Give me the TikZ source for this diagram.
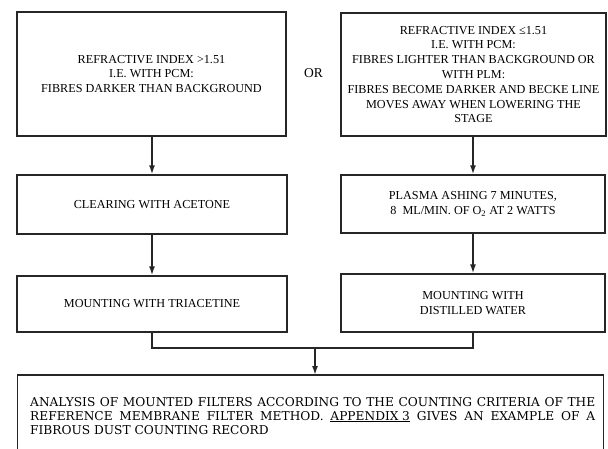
\documentclass[tikz,border=0pt]{standalone}
\usepackage{fontspec}
\setmainfont{Liberation Serif}
\newfontfamily\slabfont{DejaVu Serif}
\usetikzlibrary{arrows.meta}
\newcommand\spreadline[1]{\hbox to 565pt{\spaceskip=0.3em plus 1fil\relax #1}}
\begin{document}
\begin{tikzpicture}[x=1pt,y=1pt,
  box/.style={draw=black!85, line width=1.3pt, align=center, inner sep=0pt,
    font=\fontsize{12.2}{14.8}\selectfont},
  flow/.style={line width=1.6pt, draw=black!85, -{Latex[length=9pt,width=6pt]}},
  mergeline/.style={line width=2pt, draw=black!85}]
  \useasboundingbox (0,0) rectangle (608,-448);
  \fill[white] (0,0) rectangle (608,-448);

  % first step: choosing by refractive index
  \node[box, minimum width=269pt, minimum height=124pt] (hi) at (151.5,-74)
    {REFRACTIVE INDEX >1.51\\I.E. WITH PCM:\\FIBRES DARKER THAN BACKGROUND};
  \node[box, minimum width=265pt, minimum height=123pt] (lo) at (473.5,-74.5)
    {REFRACTIVE INDEX ≤1.51\\I.E. WITH PCM:\\FIBRES LIGHTER THAN BACKGROUND OR\\WITH PLM:\\FIBRES BECOME DARKER AND BECKE LINE\\MOVES AWAY WHEN LOWERING THE\\STAGE};
  \node[font=\fontsize{13.5}{14}\selectfont] (or) at (313.5,-73) {OR};

  % preparation of the filters
  \node[box, minimum width=270pt, minimum height=59pt] (clear) at (152,-204.5)
    {CLEARING WITH ACETONE};
  \node[box, minimum width=264pt, minimum height=58pt] (ash) at (473,-204)
    {PLASMA ASHING 7 MINUTES,\\8\ \ ML/MIN. OF O\textsubscript{2} AT 2 WATTS};
  \node[box, minimum width=270pt, minimum height=56pt] (tri) at (152,-304)
    {MOUNTING WITH TRIACETINE};
  \node[box, minimum width=264pt, minimum height=58pt] (water) at (473,-303)
    {MOUNTING WITH\\DISTILLED WATER};

  % final analysis box, running past the lower edge
  \node[minimum width=585pt, minimum height=80pt, inner sep=0pt, anchor=north] (ana) at (310.5,-375) {};
  \draw[line width=1.3pt, draw=black!85] (ana.north west |- 0,-452) -- (ana.north west)
    -- (ana.north east) -- (ana.north east |- 0,-452);
  \node[anchor=base west, inner sep=0pt, align=left,
        font=\slabfont\fontsize{12.2}{14}\selectfont] (txt) at (30,-434)
    {\spreadline{ANALYSIS OF MOUNTED FILTERS ACCORDING TO THE COUNTING CRITERIA OF THE}\\
     \spreadline{REFERENCE MEMBRANE FILTER METHOD. \underline{APPENDIX 3} GIVES AN EXAMPLE OF A}\\
     FIBROUS DUST COUNTING RECORD};

  % connectors
  \draw[flow] (hi.south -| clear.north) -- (clear.north);
  \draw[flow] (lo.south -| ash.north) -- (ash.north);
  \draw[flow] (clear) -- (tri);
  \draw[flow] (ash) -- (water);
  \coordinate (jl) at (tri.south |- 0,-348);
  \coordinate (jr) at (water.south |- 0,-348);
  \coordinate (jm) at (315,-348);
  \draw[mergeline] (tri.south) -- (jl) -- (jr) -- (water.south);
  \draw[flow] (jm) -- (jm |- ana.north);
\end{tikzpicture}
\end{document}
